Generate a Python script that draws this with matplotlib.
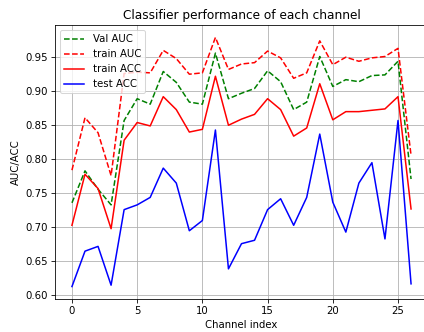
import matplotlib
matplotlib.use("Agg")
import matplotlib.pyplot as plt
import numpy as np

channels = list(range(27))
val_auc = [0.735, 0.782, 0.755, 0.732, 0.856, 0.888, 0.880, 0.928, 0.912, 0.883,
           0.880, 0.955, 0.888, 0.896, 0.903, 0.929, 0.913, 0.872, 0.883, 0.950,
           0.906, 0.916, 0.913, 0.922, 0.923, 0.943, 0.770]
train_auc = [0.783, 0.860, 0.838, 0.775, 0.925, 0.927, 0.926, 0.959, 0.947, 0.924,
             0.926, 0.978, 0.931, 0.939, 0.941, 0.958, 0.948, 0.918, 0.926, 0.973,
             0.938, 0.949, 0.943, 0.948, 0.950, 0.962, 0.805]
train_acc = [0.702, 0.777, 0.756, 0.697, 0.827, 0.853, 0.848, 0.891, 0.872, 0.839,
             0.843, 0.921, 0.849, 0.858, 0.865, 0.888, 0.872, 0.833, 0.845, 0.910,
             0.857, 0.869, 0.869, 0.871, 0.873, 0.891, 0.726]
test_acc = [0.612, 0.664, 0.671, 0.614, 0.725, 0.732, 0.743, 0.786, 0.764, 0.694,
            0.709, 0.842, 0.638, 0.675, 0.680, 0.725, 0.741, 0.702, 0.743, 0.836,
            0.736, 0.692, 0.764, 0.794, 0.682, 0.856, 0.616]

dpi = 73
fig = plt.figure(figsize=(424 / dpi, 332 / dpi), dpi=dpi)
ax = fig.add_axes([55 / 424, 33 / 332, 373 / 424, 274 / 332])
ax.plot(channels, val_auc, 'g--', label='Val AUC')
ax.plot(channels, train_auc, 'r--', label='train AUC')
ax.plot(channels, train_acc, 'r-', label='train ACC')
ax.plot(channels, test_acc, 'b-', label='test ACC')
ax.set_title('Classifier performance of each channel')
ax.set_xlabel('Channel index')
ax.set_ylabel('AUC/ACC')
ax.grid(True)
ax.legend(loc='upper left')
fig.savefig('out.png', dpi=dpi)
